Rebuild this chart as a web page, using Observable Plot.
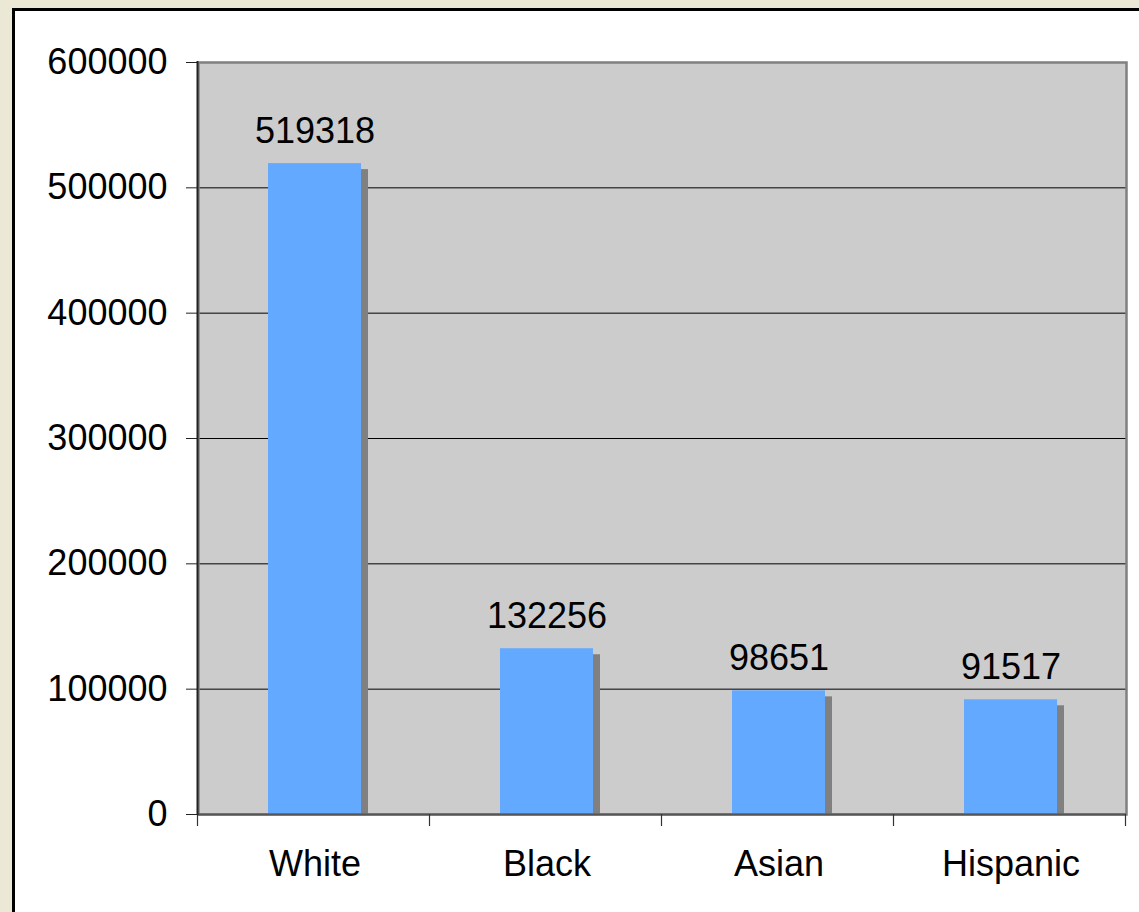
<!DOCTYPE html>
<html>
<head>
<meta charset="utf-8">
<script src="https://cdn.jsdelivr.net/npm/d3@7"></script>
<script src="https://cdn.jsdelivr.net/npm/@observablehq/plot@0.6"></script>
<style>
  html, body { margin: 0; padding: 0; background: #ece8d6; width: 1139px; height: 912px; overflow: hidden; }
  #card { position: absolute; left: 12px; top: 8px; width: 1140px; height: 920px; background: #fff; border: 3px solid #000; }
  #card svg { display: block; }
</style>
</head>
<body>
<div id="card"></div>
<script>
// Population by group
const groups = ["White", "Black", "Asian", "Hispanic"];
const counts = [519318, 132256, 98651, 91517];
const yTicks = [0, 100000, 200000, 300000, 400000, 500000, 600000];

const rows = groups.map((group, i) => ({group, count: counts[i]}));

const W = 1124, H = 901;

// Left axis line plus tick marks on the boundaries between the category bands
function bandEdges(index, scales, values, dims) {
  const left = dims.marginLeft, right = dims.width - dims.marginRight;
  const top = dims.marginTop, bottom = dims.height - dims.marginBottom;
  const n = groups.length, step = (right - left) / n;
  const g = d3.create("svg:g");
  g.append("line")
    .attr("x1", left - 0.5).attr("x2", left - 0.5)
    .attr("y1", top - 1).attr("y2", bottom + 1)
    .attr("stroke", "#222").attr("stroke-width", 2);
  for (let i = 0; i <= n; ++i) {
    const x = Math.round(left + i * step) - 0.5;
    g.append("line")
      .attr("x1", x).attr("x2", x)
      .attr("y1", bottom).attr("y2", bottom + 12)
      .attr("stroke", "#333").attr("stroke-width", 1.2);
  }
  return g.node();
}

const chart = Plot.plot({
  width: W,
  height: H,
  marginTop: 51,
  marginRight: 13,
  marginBottom: 98,
  marginLeft: 183,
  style: {
    fontFamily: "'Liberation Sans', Arial, sans-serif",
    fontSize: "36px",
    color: "#000",
    background: "transparent",
    overflow: "visible"
  },
  x: {domain: groups, paddingInner: 0.6, paddingOuter: 0.3, axis: null},
  y: {domain: [0, 600000], axis: null},
  marks: [
    Plot.frame({fill: "#cccccc"}),
    Plot.gridY(yTicks, {stroke: "#000", strokeOpacity: 1, strokeWidth: 1}),
    // drop shadow behind each bar
    Plot.rectY(rows, {x: "group", y: "count", fill: "#808080", dx: 7, dy: 6, clip: true}),
    Plot.rectY(rows, {x: "group", y: "count", fill: "#62a9ff"}),
    Plot.frame({stroke: "#808080", strokeWidth: 2.5}),
    Plot.ruleY([0], {stroke: "#555", strokeWidth: 2}),
    bandEdges,
    Plot.axisY(yTicks, {
      tickSize: 12,
      tickPadding: 19,
      tickFormat: d3.format("d"),
      label: null,
      stroke: "#222",
      fill: "#000"
    }),
    Plot.axisX({tickSize: 0, tickPadding: 36, label: null, fill: "#000"}),
    Plot.text(rows, {
      x: "group",
      y: "count",
      text: d => String(d.count),
      lineAnchor: "bottom",
      dy: -21,
      fill: "#000"
    })
  ]
});

document.getElementById("card").appendChild(chart);
</script>
</body>
</html>
